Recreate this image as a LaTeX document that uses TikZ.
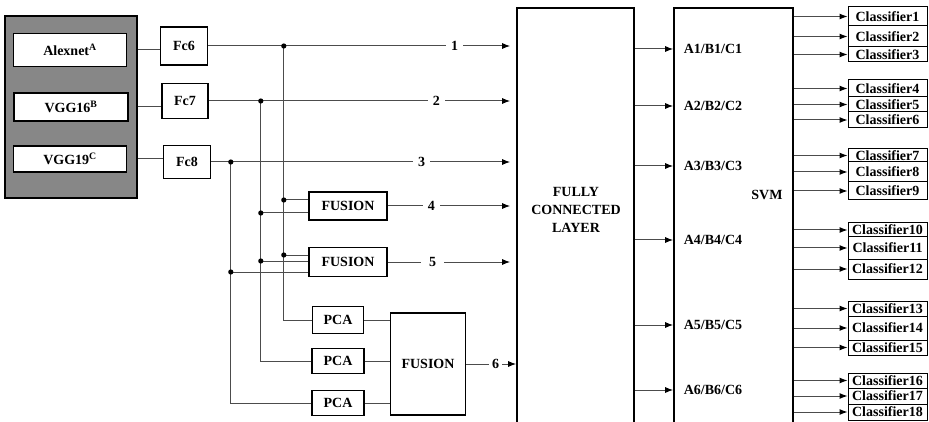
\documentclass[tikz,border=0pt]{standalone}
\usepackage{fontspec}
\setmainfont{Liberation Serif}
\usetikzlibrary{arrows.meta, positioning}

\begin{document}
\begin{tikzpicture}[
        x=1pt, y=-1pt,
        lbl/.style={font=\bfseries\fontsize{14}{18}\selectfont, inner sep=0pt},
        block/.style={rectangle, draw=black, line width=1.6pt, fill=white, lbl, align=center},
        cls/.style={block, line width=1pt, minimum width=79pt},
        num/.style={lbl, fill=white, inner xsep=5pt, inner ysep=1pt},
        line/.style={draw=black!70, line width=1pt},
        arrow/.style={line, -{Latex[length=8pt, width=6pt, color=black]}}
    ]
    \useasboundingbox (0,0) rectangle (929,422);

    % Pretrained networks
    \node[block, fill=black!47, minimum width=132pt, minimum height=182pt] (cnn) at (71,107) {};
    \node[block, minimum width=113pt, minimum height=33pt] (alex) at (70,50) {Alexnet\textsuperscript{A}};
    \node[block, minimum width=114pt, minimum height=28pt] (vgg16) at (71,107) {VGG16\textsuperscript{B}};
    \node[block, minimum width=113pt, minimum height=26pt] (vgg19) at (70,159) {VGG19\textsuperscript{C}};

    \node[block, minimum width=47pt, minimum height=38pt] (fc6) at (184,46) {Fc6};
    \node[block, minimum width=46pt, minimum height=35pt] (fc7) at (185,101) {Fc7};
    \node[block, minimum width=47pt, minimum height=33pt] (fc8) at (187,162) {Fc8};

    \coordinate[right=75.5pt of fc6.east] (t6);
    \coordinate[right=52pt of fc7.east] (t7);
    \coordinate[right=19.5pt of fc8.east] (t8);

    % Fusion branches
    \node[block, minimum width=78pt, minimum height=28pt] (fus1) at (348,206) {FUSION};
    \node[block, minimum width=78pt, minimum height=29pt] (fus2) at (348,262) {FUSION};
    \node[block, minimum width=51pt, minimum height=27pt] (pca1) at (338,320) {PCA};
    \node[block, minimum width=52pt, minimum height=25pt] (pca2) at (338,361) {PCA};
    \node[block, minimum width=52pt, minimum height=25pt] (pca3) at (338,403) {PCA};
    \node[block, minimum width=75pt, minimum height=102pt] (fus3) at (428,364) {FUSION};

    % Layers
    \node[block, anchor=north, minimum width=117pt, minimum height=440pt] (fcl) at (575.5,7) {};
    \node[lbl, align=center] (fcltxt) at (576,210) {FULLY\\CONNECTED\\LAYER};
    \node[block, anchor=north, minimum width=119pt, minimum height=440pt] (svm) at (733.5,7) {};
    \node[lbl] (svmtxt) at (767,195) {SVM};

    \node[lbl] (a1) at (713,49) {A1/B1/C1};
    \node[lbl] (a2) at (713,106) {A2/B2/C2};
    \node[lbl] (a3) at (713,166) {A3/B3/C3};
    \node[lbl] (a4) at (713,240) {A4/B4/C4};
    \node[lbl] (a5) at (713,325) {A5/B5/C5};
    \node[lbl] (a6) at (713,390) {A6/B6/C6};

    \foreach \i/\y/\h in {1/16.5/19, 2/36.5/21, 3/54.5/15, 4/88.5/17, 5/104.5/15, 6/120/16,
            7/155.5/13, 8/172/20, 9/191/18, 10/230/14, 11/248/22, 12/269/20,
            13/308.5/15, 14/328/24, 15/347.5/15, 16/380.5/15, 17/396/16, 18/412/16}
        \node[cls, minimum height=\h pt] (c\i) at (887.5,\y) {Classifier\i};

    \draw[line] (alex.east -| cnn.east) -- (alex.east -| fc6.west);
    \draw[line] (vgg16.east -| cnn.east) -- (vgg16.east -| fc7.west);
    \draw[line] (vgg19.east -| cnn.east) -- (vgg19.east -| fc8.west);

    \draw[arrow, shorten >=6pt] (fc6.east) -- node[num, pos=0.8] (n1) {1} (fc6.east -| fcl.west);
    \draw[arrow, shorten >=6pt] (fc7.east) -- node[num, pos=0.74] (n2) {2} (fc7.east -| fcl.west);
    \draw[arrow, shorten >=6pt] (fc8.east) -- node[num, pos=0.69] (n3) {3} (fc8.east -| fcl.west);
    \draw[arrow, shorten >=6pt] (fus1.east) -- node[num, pos=0.34] (n4) {4} (fus1.east -| fcl.west);
    \draw[arrow, shorten >=6pt] (fus2.east) -- node[num, pos=0.35, inner xsep=8pt] (n5) {5} (fus2.east -| fcl.west);
    \draw[arrow] (fus3.east) -- node[num, pos=0.59, inner xsep=3pt] (n6) {6} (fus3.east -| fcl.west);

    \draw[line] (pca1.west) -| (t6);
    \draw[line] (pca2.west) -| (t7);
    \draw[line] (pca3.west) -| (t8);
    \draw[line] ([yshift=6pt]fus1.west) -| coordinate[pos=0.5] (j61) (t6);
    \draw[line] ([yshift=-7pt]fus1.west) -| coordinate[pos=0.5] (j71) (t7);
    \draw[line] ([yshift=7pt]fus2.west) -| coordinate[pos=0.5] (j62) (t6);
    \draw[line] ([yshift=1pt]fus2.west) -| coordinate[pos=0.5] (j72) (t7);
    \draw[line] ([yshift=-10pt]fus2.west) -| coordinate[pos=0.5] (j82) (t8);
    \draw[line] (pca1.east) -- (pca1.east -| fus3.west);
    \draw[line] (pca2.east) -- (pca2.east -| fus3.west);
    \draw[line] (pca3.east) -- (pca3.east -| fus3.west);

    \foreach \j in {t6, t7, t8, j61, j71, j62, j72, j82}
        \fill (\j) circle (2.6pt);

    \foreach \k in {1,...,6}
        \draw[arrow] (a\k -| fcl.east) -- (a\k -| svm.west);
    \foreach \i in {1,...,18}
        \draw[arrow] (c\i.west -| svm.east) -- (c\i.west);
\end{tikzpicture}
\end{document}
